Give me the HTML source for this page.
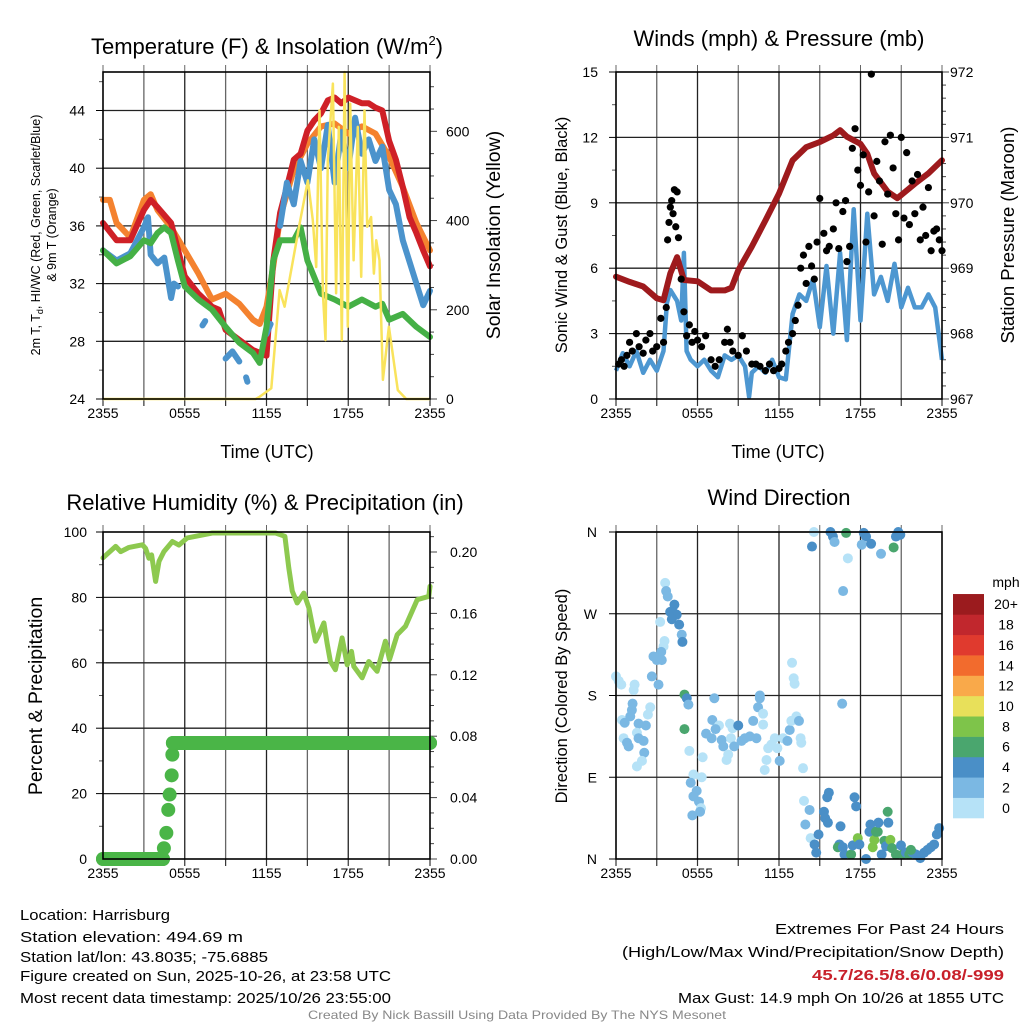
<!DOCTYPE html>
<html><head><meta charset="utf-8"><style>
html,body{margin:0;padding:0;background:#fff;}
svg{display:block;font-family:"Liberation Sans",sans-serif;}
</style></head><body>
<svg id="chart" width="1024" height="1024" viewBox="0 0 1024 1024" xmlns="http://www.w3.org/2000/svg"></svg>
<script>
// ---------- Panel 1: temperature & insolation ----------
const redHours=[0,1,2,3,3.5,4,5,6,7,8,8.5,9,10,11,11.5,12,12.5,13,13.5,14,14.5,15,15.5,16,16.5,17,17.5,18,18.5,19,19.5,20,20.5,21,21.5,22,22.5,23,23.5,24];
const redVals=[36.2,35.0,35.0,37.1,37.8,37.3,36.2,32.5,31.3,30.4,30.2,28.8,28.1,27.4,27.2,27.0,33.6,36.9,38.7,40.6,41.0,42.6,43.3,43.8,44.7,44.9,44.5,44.9,44.7,44.5,44.5,44.2,44.0,41.9,40.6,38.7,36.6,35.5,34.3,33.2];
const orangeHours=[0,0.5,1,2,3,3.5,4,5,6,7,8,9,10,11,11.5,12,12.5,13,14,15,16,17,18,19,20,21,22,23,24];
const orangeVals=[37.8,37.8,36.2,35.2,37.8,38.2,37.1,35.9,34.3,32.7,30.9,31.3,30.6,29.5,29.2,30.4,33.2,36.6,39.9,41.7,42.9,43.1,42.4,42.9,42.4,40.8,38.7,36.2,34.3];
const greenHours=[0,1,2,3,3.5,4,4.5,5,5.5,6,7,8,9,10,11,11.5,12,12.5,13,14,14.5,15,16,17,18,19,20,20.5,21,22,23,24];
const greenVals=[34.3,33.4,33.9,35.0,34.8,35.5,35.9,35.5,33.6,31.8,30.9,30.2,29.0,27.9,27.2,26.5,29.0,33.6,35.0,35.0,35.9,33.6,31.3,30.9,30.4,30.9,30.4,30.6,29.5,29.9,29.0,28.3];
const blueHours=[0,1,2,3,3.3,3.5,4,4.5,5,5.2,5.5,6,7.3,7.5,8,9,9.5,10,10.2,10.5,10.6,11,12,12.3,12.6,13,13.5,14,14.5,15,15.5,16,16.5,17,17.5,18,18.5,19,19.5,20,20.5,21,21.5,22,23,23.5,24];
const blueVals=[34.3,33.6,34.1,35.9,36.6,34.0,33.4,33.8,31.0,32.0,31.8,null,29.1,29.4,null,26.8,27.3,26.6,null,25.5,25.2,null,28.5,29.2,null,36.0,39.0,37.5,40.5,39.0,42.0,40.0,43.0,39.0,42.5,40.0,43.5,41.0,42.0,40.5,41.5,38.5,37.5,35.0,32.0,30.5,31.5];
const insHours=[0,11.2,11.49,12.35,12.96,13.33,14.43,15.04,15.40,15.65,15.89,16.14,16.33,16.50,16.87,17.11,17.31,17.53,17.73,17.97,18.14,18.39,18.70,18.95,19.19,19.39,19.68,19.88,20.05,20.29,20.54,20.98,21.64,22.25,24];
const insVals=[0,0,5,24,244,207,393,490,401,296,647,237,132,535,707,237,610,132,733,162,662,311,610,274,647,386,408,281,356,311,43,162,20,0,0];
const tempTicks=[24,28,32,36,40,44];
const insTicks=[0,200,400,600];
const timeTickLabels=["2355","0555","1155","1755","2355"];
// ---------- Panel 2: winds & pressure ----------
const windHours=[0,0.5,1,1.5,2,2.5,3,3.5,3.75,4,4.5,4.8,5.0,5.2,5.5,6,6.5,7,7.5,8,8.5,9,9.5,9.8,10,10.5,11,11.5,12,12.5,13,13.5,14,14.5,15,15.5,16,16.5,17,17.5,18,18.5,19,19.5,20,20.5,21,21.5,22,22.5,23,23.5,24];
const windVals=[1.3,2.1,1.5,2.2,1.2,1.8,1.3,2.2,4.4,5.0,4.5,3.6,6.7,2.2,1.8,1.5,1.8,1.3,1.0,2.0,1.8,2.0,1.5,0.1,1.2,1.5,1.2,1.8,1.0,0.9,3.9,4.8,4.5,5.5,3.3,6.1,3.0,6.7,2.7,8.7,3.6,8.5,4.8,5.6,4.5,6.2,4.2,5.1,4.2,4.2,4.8,4.2,1.8];
const gustHours=[0.2,0.4,0.6,0.8,1,1.2,1.5,1.7,2,2.2,2.5,2.7,3,3.3,3.5,3.7,3.8,3.9,4,4.1,4.2,4.3,4.4,4.5,4.6,4.8,5,5.2,5.4,5.6,5.8,6,6.3,6.6,7,7.3,7.6,8,8.2,8.4,8.6,9,9.3,9.6,10,10.3,10.6,11,11.3,11.6,12,12.2,12.5,12.7,13,13.2,13.4,13.6,13.8,14,14.2,14.4,14.6,14.8,15,15.3,15.5,15.7,16,16.2,16.4,16.7,16.9,17,17.2,17.4,17.6,17.8,18,18.2,18.4,18.6,18.8,19,19.2,19.4,19.6,19.8,20,20.2,20.4,20.6,20.8,21,21.2,21.4,21.6,21.8,22,22.2,22.4,22.6,22.8,23,23.2,23.4,23.6,23.8,24];
const gustVals=[1.6,1.8,1.5,2.0,2.6,2.2,3.0,2.4,2.1,2.7,3.0,2.2,2.4,3.7,2.6,4.2,7.3,8.1,8.8,9.1,8.5,9.6,7.9,9.5,7.4,5.5,4.0,2.9,3.4,2.6,3.1,2.7,2.4,2.9,1.8,1.5,1.8,2.6,3.2,2.6,2.2,2.0,2.9,2.2,1.6,1.6,1.5,1.3,1.6,1.3,1.4,1.6,2.2,2.6,3.0,3.6,4.3,6.0,6.6,5.3,7.0,6.1,5.5,7.2,9.2,7.6,6.8,7.0,7.8,9.0,6.9,8.6,9.1,6.3,7.0,11.5,12.4,10.5,9.8,11.2,7.2,9.5,14.9,8.4,10.9,10.0,7.1,11.8,9.4,12.1,10.6,8.5,7.3,12.0,8.3,11.3,8.0,10.0,8.5,10.3,7.3,8.8,7.5,9.7,6.8,7.7,7.8,7.3,6.8];
const presHours=[0,1,2,3,3.5,4,4.5,5,6,7,8,8.5,9,10,11,12,13,14,15,16,16.5,17,18,18.5,19,20,20.7,21,22,23,24];
const presVals=[968.87,968.79,968.72,968.54,968.51,968.92,969.17,968.82,968.80,968.66,968.66,968.70,968.97,969.33,969.73,970.14,970.65,970.85,970.93,971.03,971.11,971.01,970.90,970.75,970.45,970.17,970.07,970.12,970.29,970.45,970.65];
const windTicks=[0,3,6,9,12,15];
const presTicks=[967,968,969,970,971,972];
// ---------- Panel 3: RH & precipitation ----------
const rhHours=[0,0.93,1.30,1.91,2.89,3.13,3.37,3.57,3.86,4.11,4.47,5.09,5.57,6.19,8.02,10.46,12.67,13.35,13.64,13.89,14.25,14.74,15.11,15.60,15.84,16.21,16.45,16.69,17.06,17.55,17.92,18.24,18.41,19.02,19.51,20.12,20.73,21.03,21.59,22.20,23.06,23.91,24];
const rhVals=[92.1,95.6,94,95.3,96.1,95,92,93,84.9,91,94,97.1,96,98.2,99.7,99.7,99.7,98.7,89,81.9,78.3,81.3,76.8,66.6,68.6,72.2,66,60.4,57.9,67.6,59.4,63.5,58.9,55.4,60.4,57.4,66.6,61,68.6,71.2,79.3,80.3,83.4];
const precipHours=[0,4.4,4.47,4.65,4.79,4.89,5.04,5.09,5.13,24];
const precipVals=[0,0,0.007,0.017,0.032,0.042,0.0545,0.068,0.0756,0.0756];
const rhTicks=[0,20,40,60,80,100];
const precipTicks=["0.00","0.04","0.08","0.12","0.16","0.20"];
// ---------- Panel 4: wind direction ----------
const dirHours=[0,0.2,0.39,1.37,1.30,2.64,3.13,0.44,0.64,1.05,1.17,1.22,1.66,2.20,2.35,2.52,0.56,0.81,0.93,1.54,1.66,2.03,2.08,1.91,1.54,3.62,3.69,3.81,4.30,3.99,4.23,4.47,4.11,4.65,4.84,4.89,3.25,3.57,3.50,3.33,2.76,3.01,3.37,5.04,5.21,5.33,5.04,5.40,5.70,6.31,5.50,5.94,5.70,6.11,6.26,5.62,6.19,6.38,6.63,7.04,7.24,7.09,7.58,7.33,7.78,7.90,8.14,8.26,8.39,8.58,8.46,8.70,9.00,9.24,9.49,9.85,10.10,10.34,10.59,10.59,10.46,10.83,10.83,11.08,10.95,11.20,11.44,11.69,11.88,12.05,12.30,12.62,12.79,12.91,13.28,13.47,13.59,13.64,13.77,12.96,13.08,13.15,14.57,15.79,15.97,16.09,16.94,18.24,18.41,18.09,18.78,19.51,20.44,20.61,20.78,20.93,14.43,17.07,16.72,16.65,13.84,14.25,13.94,14.33,14.62,14.91,14.74,15.31,15.40,15.60,15.67,15.55,16.53,16.45,16.33,16.70,16.82,17.31,17.43,17.56,17.68,17.80,17.92,18.41,18.66,18.73,19.02,19.14,19.27,18.90,19.32,19.56,19.76,19.88,20.00,20.05,20.20,20.32,20.61,20.98,21.10,21.34,21.59,21.83,22.08,22.40,22.69,22.93,23.18,23.42,23.62,23.79,21.71];
const dirVals=[201,196,192,192,186,201,192,153,150,157,164,171,149,147,159,167,133,128,124,139,133,130,117,108,102,304,295,289,280,272,271,269,264,258,247,239,261,240,234,228,223,219,219,181,177,170,143,119,93,90,84,75,69,63,56,48,52,112,138,133,177,153,147,143,131,124,109,115,149,144,133,124,147,130,133,135,152,133,180,177,167,160,148,109,98,122,126,133,122,108,133,130,142,152,157,152,133,128,100,216,199,193,360,360,355,349,359,359,355,346,347,336,343,355,360,357,344,331,295,171,64,54,38,23,16,27,7,52,45,40,73,68,36,16,13,13,5,5,15,68,58,23,16,0,30,38,21,30,30,13,40,5,20,14,52,40,21,12,5,15,5,7,5,7,5,1,7,10,13,16,27,34,10];
const dirSpeeds=[1,1,1,1,1,3,3,1,3,3,3,3,3,3,1,1,1,3,3,1,3,3,3,1,1,1,3,3,5,5,5,5,5,5,3,5,1,1,1,3,3,3,3,7,5,3,7,1,1,1,3,3,3,3,1,3,3,1,3,3,3,3,1,3,3,3,1,1,1,1,1,3,5,3,3,3,3,3,3,3,3,1,1,1,1,1,1,1,1,3,1,3,3,1,1,3,1,1,1,1,1,1,1,5,5,3,7,5,5,3,5,3,7,5,5,5,5,1,3,3,1,3,3,1,5,5,5,5,5,5,5,5,5,5,7,5,5,7,5,5,5,9,5,5,5,5,9,7,7,9,5,5,7,5,7,5,9,7,7,5,7,5,7,5,5,5,5,5,5,5,5,5,7];
const dirTickLabels=["N","E","S","W","N"];
const speedLabels=["0","2","4","6","8","10","12","14","16","18","20+"];
const speedColors=["#b6e2f7","#7bb8e3","#4a8fc7","#4aa66e","#7ec44a","#e8e05a","#f9a94a","#f26b2d","#e03a2e","#c1272d","#9b1b1e"];

const NS="http://www.w3.org/2000/svg";
const svg=document.getElementById('chart');
function mk(tag,attrs,parent,text){const e=document.createElementNS(NS,tag);for(const k in attrs)e.setAttribute(k,attrs[k]);if(text!==undefined)e.textContent=text;(parent||svg).appendChild(e);return e;}
function lin(d0,d1,r0,r1){return v=>r0+(v-d0)*(r1-r0)/(d1-d0);}
function pathD(xs,ys,xf,yf){let d='',pen=false;for(let i=0;i<xs.length;i++){if(ys[i]===null||ys[i]===undefined){pen=false;continue;}d+=(pen?'L':'M')+xf(xs[i]).toFixed(1)+' '+yf(ys[i]).toFixed(1);pen=true;}return d;}

function frame(g,x0,x1,y0,y1){
  const xs=lin(0,24,x0,x1);
  for(let h=3;h<24;h+=3){const l=mk('line',{x1:xs(h),x2:xs(h),y1:y0,y2:y1,stroke:h%6===0?'#222':'#666','stroke-width':1.3},g);
    }
  for(let h=0;h<=24;h+=3){mk('line',{x1:xs(h),x2:xs(h),y1:y0-7,y2:y0,stroke:'#666','stroke-width':1},g);mk('line',{x1:xs(h),x2:xs(h),y1:y1,y2:y1+7,stroke:'#333','stroke-width':1.2},g);}
  timeTickLabels.forEach((t,i)=>{const e=mk('text',{x:xs(i*6),y:y1+19,'font-size':14,'text-anchor':'middle'},g,t);
    });
  return xs;
}
function border(g,x0,x1,y0,y1){const r=mk('rect',{x:x0,y:y0,width:x1-x0,height:y1-y0,fill:'none',stroke:'#000','stroke-width':1.6},g);}
function hgrid(g,x0,x1,y){mk('line',{x1:x0,x2:x1,y1:y,y2:y,stroke:'#222','stroke-width':1.3},g);}
function rotText(g,x,y,size,txt,name,ang){const e=mk('text',{x:x,y:y,'font-size':size,'text-anchor':'middle',transform:`rotate(${ang} ${x} ${y})`},g,txt);return e;}

// ===== Panel 1 =====
(function(){
  const g=mk('g',{});
  const x0=103,x1=430,y0=72,y1=399;
  const xs=frame(g,x0,x1,y0,y1);
  const yT=lin(24,46.67,y1,y0), yI=lin(0,733,y1,y0);
  tempTicks.forEach(t=>{if(t>24)hgrid(g,x0,x1,yT(t));mk('line',{x1:x0-7,x2:x0,y1:yT(t),y2:yT(t),stroke:'#000'},g);
    const e=mk('text',{x:x0-18,y:yT(t)+5,'font-size':14,'text-anchor':'end'},g,t);});
  for(let t=26;t<=46;t+=4)mk('line',{x1:x0-4,x2:x0,y1:yT(t),y2:yT(t),stroke:'#555'},g);
  for(let v=0;v<=700;v+=50)mk('line',{x1:x1,x2:x1+(v%200===0?7:4),y1:yI(v),y2:yI(v),stroke:'#444'},g);
  insTicks.forEach(t=>{const e=mk('text',{x:x1+16,y:yI(t)+5,'font-size':14},g,t);});
  const series=[['orange-9m-temp',orangeHours,orangeVals,'#f4822f'],['red-2m-temp',redHours,redVals,'#cf2027'],['blue-windchill',blueHours,blueVals,'#4b93cc'],['green-dewpoint',greenHours,greenVals,'#45b046']];
  series.forEach(s=>{const p=mk('path',{d:pathD(s[1],s[2],xs,yT),fill:'none',stroke:s[3],'stroke-width':6,'stroke-linejoin':'round','stroke-linecap':'round'},g);
    });
  const ins=mk('path',{d:pathD(insHours,insVals,xs,yI),fill:'none',stroke:'#f9e35c','stroke-width':2.5,'stroke-linejoin':'round'},g);
  
  border(g,x0,x1,y0,y1);
  const t=mk('text',{x:267,y:54,'font-size':22,'text-anchor':'middle'},g);
  t.innerHTML='Temperature (F) &amp; Insolation (W/m<tspan dy="-9" font-size="13">2</tspan><tspan dy="9">)</tspan>';
  const yt=mk('text',{x:40,y:235,'font-size':12.5,'text-anchor':'middle',transform:'rotate(-90 40 235)'},g);
  
  yt.innerHTML='2m T, T<tspan dy="3" font-size="9">d</tspan><tspan dy="-3">, HI/WC (Red, Green, Scarlet/Blue)</tspan>';
  rotText(g,56,235,12.5,'& 9m T (Orange)','temperature-y-axis-title-line2',-90);
  rotText(g,500,235,19.5,'Solar Insolation (Yellow)','insolation-y-axis-title',-90);
  const xt=mk('text',{x:267,y:458,'font-size':18,'text-anchor':'middle'},g,'Time (UTC)');
})();

// ===== Panel 2 =====
(function(){
  const g=mk('g',{});
  const x0=616,x1=942,y0=72,y1=399;
  const xs=frame(g,x0,x1,y0,y1);
  const yW=lin(0,15,y1,y0), yP=lin(967,972,y1,y0);
  windTicks.forEach(t=>{if(t>0&&t<15)hgrid(g,x0,x1,yW(t));mk('line',{x1:x0-7,x2:x0,y1:yW(t),y2:yW(t),stroke:'#000'},g);
    const e=mk('text',{x:x0-18,y:yW(t)+5,'font-size':14,'text-anchor':'end'},g,t);});
  for(let t=1.5;t<15;t+=3)mk('line',{x1:x0-4,x2:x0,y1:yW(t),y2:yW(t),stroke:'#555'},g);
  for(let p=967;p<=972.001;p+=0.2)mk('line',{x1:x1,x2:x1+(Math.abs(p-Math.round(p))<0.01?7:4),y1:yP(p),y2:yP(p),stroke:'#444'},g);
  presTicks.forEach(t=>{const e=mk('text',{x:x1+8,y:yP(t)+5,'font-size':14},g,t);});
  const w=mk('path',{d:pathD(windHours,windVals,xs,yW),fill:'none',stroke:'#4d97d1','stroke-width':4.5,'stroke-linejoin':'round'},g);
  
  const pr=mk('path',{d:pathD(presHours,presVals,xs,yP),fill:'none',stroke:'#9e1a1d','stroke-width':6,'stroke-linejoin':'round','stroke-linecap':'round'},g);
  
  gustHours.forEach((h,i)=>{const c=mk('circle',{cx:xs(h),cy:yW(gustVals[i]),r:3.6,fill:'#000'},g);
    });
  border(g,x0,x1,y0,y1);
  const t=mk('text',{x:779,y:46,'font-size':22,'text-anchor':'middle'},g,'Winds (mph) & Pressure (mb)');
  rotText(g,567,235,16.5,'Sonic Wind & Gust (Blue, Black)','wind-y-axis-title',-90);
  rotText(g,1014,235,18.5,'Station Pressure (Maroon)','pressure-y-axis-title',-90);
  const xt=mk('text',{x:778,y:458,'font-size':18,'text-anchor':'middle'},g,'Time (UTC)');
})();

// ===== Panel 3 =====
(function(){
  const g=mk('g',{});
  const x0=103,x1=430,y0=532,y1=859;
  const xs=frame(g,x0,x1,y0,y1);
  const yR=lin(0,100,y1,y0), yPr=lin(0,0.2,y1,552);
  rhTicks.forEach(t=>{if(t>0&&t<100)hgrid(g,x0,x1,yR(t));mk('line',{x1:x0-7,x2:x0,y1:yR(t),y2:yR(t),stroke:'#000'},g);
    const e=mk('text',{x:x0-16,y:yR(t)+5,'font-size':14,'text-anchor':'end'},g,t);});
  for(let t=10;t<100;t+=20)mk('line',{x1:x0-4,x2:x0,y1:yR(t),y2:yR(t),stroke:'#555'},g);
  for(let k=0;k<=21;k++){const v=k*0.01;mk('line',{x1:x1,x2:x1+(k%4===0?7:4),y1:yPr(v),y2:yPr(v),stroke:'#444'},g);}
  precipTicks.forEach(t=>{const e=mk('text',{x:x1+20,y:yPr(parseFloat(t))+5,'font-size':14},g,t);});
  const rh=mk('path',{d:pathD(rhHours,rhVals,xs,yR),fill:'none',stroke:'#8dc94f','stroke-width':5,'stroke-linejoin':'round','stroke-linecap':'round'},g);
  
  for(let i=1;i<precipHours.length;i++){
    if(precipVals[i]===precipVals[i-1]){
      const s=mk('line',{x1:xs(precipHours[i-1]),x2:xs(precipHours[i]),y1:yPr(precipVals[i]),y2:yPr(precipVals[i]),stroke:'#4ab547','stroke-width':14,'stroke-linecap':'round'},g);
      
      
    }
  }
  precipHours.forEach((h,i)=>{const c=mk('circle',{cx:xs(h),cy:yPr(precipVals[i]),r:7,fill:'#4ab547'},g);
    });
  border(g,x0,x1,y0,y1);
  const t=mk('text',{x:265,y:510,'font-size':22,'text-anchor':'middle'},g,'Relative Humidity (%) & Precipitation (in)');
  rotText(g,42,696,19.5,'Percent & Precipitation','humidity-y-axis-title',-90);
})();

// ===== Panel 4 =====
(function(){
  const g=mk('g',{});
  const x0=616,x1=942,y0=532,y1=859;
  const xs=frame(g,x0,x1,y0,y1);
  const yD=lin(0,360,y1,y0);
  dirTickLabels.forEach((t,i)=>{const v=i*90;if(i>0)hgrid(g,x0,x1,yD(v));mk('line',{x1:x0-7,x2:x0,y1:yD(v),y2:yD(v),stroke:'#000'},g);
    const e=mk('text',{x:x0-19,y:yD(v)+5,'font-size':14,'text-anchor':'end'},g,t);});
  dirHours.forEach((h,i)=>{const ci=Math.min(10,Math.floor(dirSpeeds[i]/2));
    const c=mk('circle',{cx:xs(h),cy:yD(dirVals[i]),r:5,fill:speedColors[ci]},g);
    });
  border(g,x0,x1,y0,y1);
  const t=mk('text',{x:779,y:505,'font-size':22,'text-anchor':'middle'},g,'Wind Direction');
  rotText(g,567,696,16.5,'Direction (Colored By Speed)','direction-y-axis-title',-90);
  const lg=mk('g',{},g);
  const bh=20.36;
  speedLabels.forEach((lab,i)=>{const y=818-(i+1)*bh;
    const r=mk('rect',{x:953,y:y,width:31,height:bh+0.3,fill:speedColors[i]},lg);
    const e=mk('text',{x:1006,y:y+bh/2+5,'font-size':14,'text-anchor':'middle'},lg,lab);});
  const m=mk('text',{x:1006,y:587,'font-size':14,'text-anchor':'middle'},lg,'mph');
})();

// ===== Footer text =====
(function(){
  const g=mk('g',{});
  const left=[['Location: Harrisburg',920,150],['Station elevation: 494.69 m',942,223],['Station lat/lon: 43.8035; -75.6885',962,248],['Figure created on Sun, 2025-10-26, at 23:58 UTC',981,371],['Most recent data timestamp: 2025/10/26 23:55:00',1003,371]];
  left.forEach(l=>{const e=mk('text',{x:20,y:l[1],'font-size':15,textLength:l[2],lengthAdjust:'spacingAndGlyphs'},g,l[0]);});
  const right=[['Extremes For Past 24 Hours',934,229,'#000','normal'],['(High/Low/Max Wind/Precipitation/Snow Depth)',957,382,'#000','normal'],['45.7/26.5/8.6/0.08/-999',980,192,'#c8202a','bold'],['Max Gust: 14.9 mph On 10/26 at 1855 UTC',1003,326,'#000','normal']];
  right.forEach(l=>{const e=mk('text',{x:1004-l[2],y:l[1],'font-size':15,fill:l[3],'font-weight':l[4],textLength:l[2],lengthAdjust:'spacingAndGlyphs'},g,l[0]);});
  const c=mk('text',{x:308,y:1019,'font-size':12,fill:'#888',textLength:418,lengthAdjust:'spacingAndGlyphs'},g,'Created By Nick Bassill Using Data Provided By The NYS Mesonet');
  
})();
</script>
</body></html>
